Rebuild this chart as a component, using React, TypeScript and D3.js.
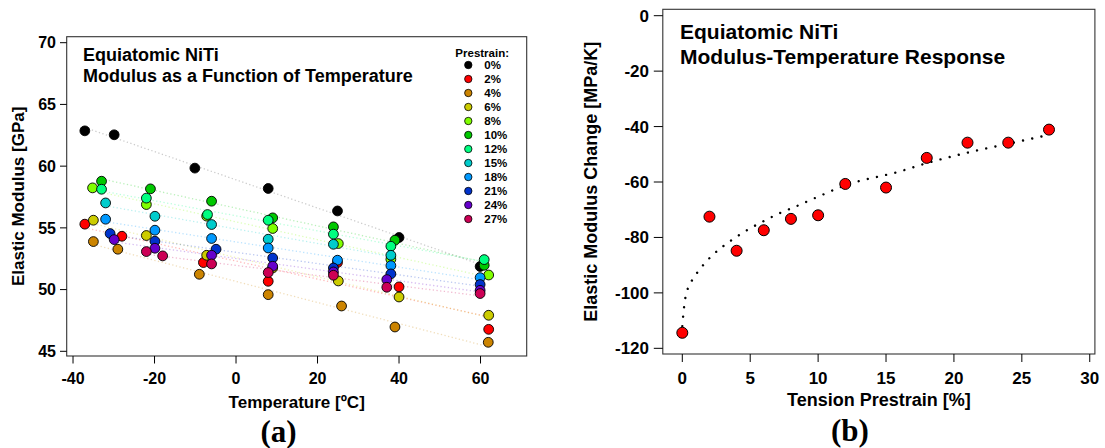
import React from "react";
import * as d3 from "d3";

// ---------- Panel (a) data ----------
const prestrainLabels = ["0%", "2%", "4%", "6%", "8%", "10%", "12%", "15%", "18%", "21%", "24%", "27%"];
const seriesColors = ["#000000", "#ff0000", "#cc8400", "#cccc00", "#80ff00", "#00c800", "#00ff80", "#00cccc", "#0099ff", "#0033cc", "#6600cc", "#cc0055"];

const temps0 = [-37.1, -29.9, -10.1, 7.9, 24.9, 40.0, 59.9];
const mods0 = [62.86, 62.54, 59.84, 58.19, 56.37, 54.22, 51.87];
const temps2 = [-37.1, -28.0, -8.0, 7.9, 24.9, 40.0, 62.0];
const mods2 = [55.3, 54.32, 52.19, 50.67, 52.19, 50.22, 46.78];
const temps4 = [-35.0, -29.0, -9.0, 7.9, 25.9, 39.0, 61.9];
const mods4 = [53.89, 53.27, 51.24, 49.59, 48.67, 46.97, 45.73];
const temps6 = [-35.0, -22.0, -7.2, 9.0, 25.1, 40.0, 62.0];
const mods6 = [55.62, 54.38, 52.78, 51.75, 50.7, 49.4, 47.92];
const temps8 = [-35.2, -22.0, -7.2, 9.0, 25.1, 38.0, 62.0];
const mods8 = [58.24, 56.89, 55.95, 54.95, 53.73, 52.45, 51.18];
const temps10 = [-33.0, -21.0, -6.0, 9.0, 23.9, 39.0, 60.9];
const mods10 = [58.78, 58.16, 57.16, 55.81, 55.08, 54.0, 51.97];
const temps12 = [-33.0, -22.0, -7.0, 7.9, 23.9, 38.0, 60.9];
const mods12 = [58.13, 57.41, 56.08, 55.62, 54.49, 53.51, 52.43];
const temps15 = [-32.0, -19.9, -6.0, 7.9, 23.9, 38.0];
const mods15 = [57.02, 55.94, 55.27, 54.08, 53.67, 52.78];
const temps18 = [-32.0, -19.9, -6.0, 7.9, 24.9, 38.0, 59.9];
const mods18 = [55.7, 54.81, 54.14, 53.37, 52.38, 51.94, 50.97];
const temps21 = [-30.9, -19.9, -4.9, 9.0, 23.9, 38.0, 59.9];
const mods21 = [54.54, 53.92, 53.27, 52.56, 51.75, 51.27, 50.41];
const temps24 = [-29.9, -19.9, -6.0, 9.0, 23.9, 37.0, 59.9];
const mods24 = [54.05, 53.35, 52.78, 51.89, 51.43, 50.81, 49.94];
const temps27 = [-22.0, -18.0, -6.0, 7.9, 23.9, 37.0, 59.9];
const mods27 = [53.08, 52.73, 52.08, 51.38, 51.16, 50.19, 49.68];

const seriesTemps = [temps0, temps2, temps4, temps6, temps8, temps10, temps12, temps15, temps18, temps21, temps24, temps27];
const seriesMods = [mods0, mods2, mods4, mods6, mods8, mods10, mods12, mods15, mods18, mods21, mods24, mods27];

const tempTicks = [-40, -20, 0, 20, 40, 60];
const modTicks = [45, 50, 55, 60, 65, 70];

// ---------- Panel (b) data ----------
const prestrainPct = [0, 2, 4, 6, 8, 10, 12, 15, 18, 21, 24, 27];
const modulusChange = [-114.4, -72.5, -84.8, -77.4, -73.3, -72.0, -60.7, -62.0, -51.3, -45.8, -45.8, -41.1];
const trendX = [0, 0.1, 0.2, 0.37, 0.69, 1.1, 1.62, 2.24, 2.9, 3.56, 4.2, 4.86, 5.52, 6.16, 6.83, 7.47, 8.13, 10, 12, 16, 18, 21, 24, 27];
const trendY = [-112, -106.5, -102.5, -99, -95.7, -92.7, -89.5, -86.3, -83.6, -81.2, -79.1, -77.1, -75.3, -73.7, -72.0, -70.6, -69.3, -65.3, -61.2, -56.2, -53.2, -49.4, -46.2, -43.0];
const strainTicks = [0, 5, 10, 15, 20, 25, 30];
const changeTicks = [0, -20, -40, -60, -80, -100, -120];

const SANS = "'Liberation Sans', Arial, Helvetica, sans-serif";
const SERIF = "'Liberation Serif', 'Times New Roman', serif";

function linFit(xs: number[], ys: number[]) {
  const mx = d3.mean(xs) as number;
  const my = d3.mean(ys) as number;
  let num = 0, den = 0;
  xs.forEach((x, i) => { num += (x - mx) * (ys[i] - my); den += (x - mx) * (x - mx); });
  const b = num / den;
  return { a: my - b * mx, b };
}

export default function App() {
  const W = 1105, H = 448;

  // Panel (a) scales
  const xA = d3.scaleLinear().domain([-41.55, 71.33]).range([66.7, 526.7]);
  const yA = d3.scaleLinear().domain([44.62, 70.486]).range([356, 36.7]);
  const [aL, aR] = xA.range();
  const [aB, aT] = yA.range();

  // Panel (b) scales
  const xB = d3.scaleLinear().domain([-1.436, 30.38]).range([662.8, 1094.9]);
  const yB = d3.scaleLinear().domain([-122.05, 2.31]).range([354, 9.3]);
  const [bL, bR] = xB.range();
  const [bB, bT] = yB.range();

  const trendLine = d3.line<number>()
    .x((d, i) => xB(trendX[i]))
    .y((d) => yB(d))
    .curve(d3.curveMonotoneX);

  return (
    <svg width={W} height={H} style={{ position: "absolute", left: 0, top: 0, background: "#fff" }}>
      <rect x={0} y={0} width={W} height={H} fill="#fff" />
      {/* ================= Panel (a) ================= */}
      {seriesTemps.map((ts, si) => {
        const f = linFit(ts, seriesMods[si]);
        const x0 = d3.min(ts) as number, x1 = d3.max(ts) as number;
        return (
          <line key={"fit" + si} x1={xA(x0)} y1={yA(f.a + f.b * x0)} x2={xA(x1)} y2={yA(f.a + f.b * x1)}
            stroke={seriesColors[si]} strokeOpacity={si === 0 ? 0.2 : 0.27} strokeWidth={1.3}
            strokeDasharray="1.3 2.4" />
        );
      })}
      {seriesTemps.map((ts, si) => (
        <g key={"pts" + si}>
          {ts.map((t, i) => (
            <circle key={i} cx={xA(t)} cy={yA(seriesMods[si][i])} r={4.9}
              fill={seriesColors[si]} stroke="#000" strokeWidth={0.9} />
          ))}
        </g>
      ))}
      <rect x={aL} y={aT} width={aR - aL} height={aB - aT} fill="none" stroke="#333" strokeWidth={1.1} />
      {modTicks.map((v) => (
        <g key={"ya" + v}>
          <line x1={aL - 6.7} x2={aL} y1={yA(v)} y2={yA(v)} stroke="#000" strokeWidth={1} />
          <text x={56} y={yA(v) + 5.8} textAnchor="end" fontFamily={SANS} fontWeight="bold" fontSize={16}>{v}</text>
        </g>
      ))}
      {tempTicks.map((v) => (
        <g key={"xa" + v}>
          <line x1={xA(v)} x2={xA(v)} y1={aB} y2={aB + 7.5} stroke="#000" strokeWidth={1} />
          <text x={xA(v)} y={383.5} textAnchor="middle" fontFamily={SANS} fontWeight="bold" fontSize={16}>{v}</text>
        </g>
      ))}
      <text x={(aL + aR) / 2} y={407.5} textAnchor="middle" fontFamily={SANS} fontWeight="bold" fontSize={17}>Temperature [ºC]</text>
      <text transform={`translate(24,${(aT + aB) / 2}) rotate(-90)`} textAnchor="middle" fontFamily={SANS} fontWeight="bold" fontSize={17}>Elastic Modulus [GPa]</text>
      <text x={83} y={61} fontFamily={SANS} fontWeight="bold" fontSize={18}>Equiatomic NiTi</text>
      <text x={83} y={82} fontFamily={SANS} fontWeight="bold" fontSize={18}>Modulus as a Function of Temperature</text>
      <text x={482.2} y={56.7} textAnchor="middle" fontFamily={SANS} fontWeight="bold" fontSize={11.5}>Prestrain:</text>
      {prestrainLabels.map((lab, i) => (
        <g key={"lg" + i}>
          <circle cx={468.3} cy={65 + i * 14} r={3.7} fill={seriesColors[i]} stroke="#000" strokeWidth={0.8} />
          <text x={484.3} y={65 + i * 14 + 4.2} fontFamily={SANS} fontWeight="bold" fontSize={11.5}>{lab}</text>
        </g>
      ))}
      <text x={278.5} y={442} textAnchor="middle" fontFamily={SERIF} fontWeight="bold" fontSize={31}>(a)</text>

      {/* ================= Panel (b) ================= */}
      <path d={trendLine(trendY) || ""} fill="none" stroke="#000" strokeWidth={2.4}
        strokeLinecap="round" strokeDasharray="0.01 9.4" />
      {prestrainPct.map((p, i) => (
        <circle key={"b" + i} cx={xB(p)} cy={yB(modulusChange[i])} r={5.5} fill="#ff0000" stroke="#000" strokeWidth={1} />
      ))}
      <rect x={bL} y={bT} width={bR - bL} height={bB - bT} fill="none" stroke="#333" strokeWidth={1.1} />
      {changeTicks.map((v) => (
        <g key={"yb" + v}>
          <line x1={bL - 9} x2={bL} y1={yB(v)} y2={yB(v)} stroke="#000" strokeWidth={1} />
          <text x={649} y={yB(v) + 6} textAnchor="end" fontFamily={SANS} fontWeight="bold" fontSize={17}>{v}</text>
        </g>
      ))}
      {strainTicks.map((v) => (
        <g key={"xb" + v}>
          <line x1={xB(v)} x2={xB(v)} y1={bB} y2={bB + 8} stroke="#000" strokeWidth={1} />
          <text x={xB(v)} y={383.5} textAnchor="middle" fontFamily={SANS} fontWeight="bold" fontSize={17}>{v}</text>
        </g>
      ))}
      <text x={(bL + bR) / 2} y={406} textAnchor="middle" fontFamily={SANS} fontWeight="bold" fontSize={18}>Tension Prestrain [%]</text>
      <text transform={`translate(597,${(bT + bB) / 2}) rotate(-90)`} textAnchor="middle" fontFamily={SANS} fontWeight="bold" fontSize={18}>Elastic Modulus Change [MPa/K]</text>
      <text x={680} y={39.3} fontFamily={SANS} fontWeight="bold" fontSize={21}>Equiatomic NiTi</text>
      <text x={680} y={64} fontFamily={SANS} fontWeight="bold" fontSize={21}>Modulus-Temperature Response</text>
      <text x={850} y={441} textAnchor="middle" fontFamily={SERIF} fontWeight="bold" fontSize={31}>(b)</text>
    </svg>
  );
}
